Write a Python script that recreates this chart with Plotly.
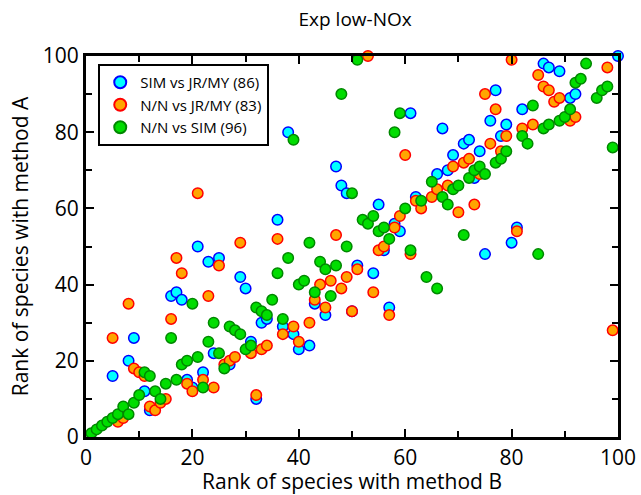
import plotly.graph_objects as go

# SIM vs JR/MY
sim_jr_x = [5, 8, 9, 11, 12, 16, 17, 18, 19, 20, 21, 22, 23, 24, 25, 27, 29, 30, 31, 32,
            33, 34, 36, 37, 38, 39, 40, 42, 43, 45, 47, 48, 49, 50, 51, 54, 55, 56, 57, 58,
            59, 61, 62, 66, 67, 68, 69, 71, 72, 73, 74, 75, 76, 77, 78, 79, 80, 81, 82, 86,
            87, 89, 91, 92, 100]
sim_jr_y = [16, 20, 26, 12, 7, 37, 38, 36, 15, 13, 50, 17, 46, 22, 47, 19, 42, 39, 25, 10,
            30, 31, 57, 29, 80, 27, 23, 24, 35, 32, 71, 66, 64, 33, 45, 43, 61, 49, 34, 56,
            54, 85, 63, 69, 81, 70, 74, 77, 78, 68, 75, 48, 83, 91, 79, 82, 51, 55, 86, 98,
            97, 96, 89, 90, 100]

# N/N vs JR/MY
nn_jr_x = [5, 6, 7, 8, 9, 10, 11, 12, 13, 14, 15, 16, 17, 18, 19, 20, 21, 22, 23, 24,
           25, 26, 27, 28, 29, 30, 31, 32, 33, 34, 36, 37, 39, 40, 42, 43, 44, 45, 46, 47,
           48, 49, 50, 51, 53, 54, 55, 56, 57, 58, 59, 60, 61, 62, 63, 65, 66, 68, 69, 70,
           71, 72, 73, 74, 75, 76, 77, 78, 79, 80, 81, 82, 84, 85, 86, 87, 88, 89, 91, 92,
           98, 99]
nn_jr_y = [26, 4, 5, 35, 18, 17, 16, 8, 7, 9, 10, 31, 47, 43, 14, 12, 64, 15, 37, 13,
           45, 19, 20, 21, 51, 78, 22, 11, 23, 24, 52, 27, 29, 25, 30, 36, 40, 34, 41, 53,
           39, 42, 33, 44, 100, 38, 49, 50, 32, 55, 58, 74, 48, 62, 60, 63, 65, 66, 71, 59,
           72, 73, 61, 69, 90, 77, 86, 75, 79, 99, 54, 81, 82, 95, 92, 91, 88, 89, 83, 84,
           97, 28]

# N/N vs SIM
nn_sim_x = [1, 2, 3, 4, 5, 6, 7, 8, 9, 10, 11, 12, 13, 14, 15, 16, 17, 18, 19, 20,
            21, 22, 23, 24, 25, 26, 27, 28, 29, 30, 31, 32, 33, 34, 35, 36, 37, 38, 39, 40,
            41, 42, 43, 44, 45, 46, 47, 48, 49, 50, 51, 52, 53, 54, 55, 56, 57, 58, 59, 60,
            61, 63, 64, 65, 66, 67, 68, 69, 70, 71, 72, 73, 74, 75, 77, 78, 79, 82, 83, 84,
            85, 86, 87, 89, 90, 91, 92, 93, 94, 96, 97, 98, 99]
nn_sim_y = [1, 2, 3, 4, 5, 6, 8, 6, 9, 11, 17, 16, 12, 10, 14, 26, 15, 19, 20, 35,
            21, 13, 25, 30, 22, 18, 29, 28, 27, 23, 24, 34, 33, 32, 36, 43, 31, 47, 78, 40,
            41, 51, 38, 46, 44, 37, 45, 90, 50, 64, 99, 57, 56, 58, 54, 55, 52, 80, 85, 60,
            49, 62, 42, 67, 39, 63, 61, 65, 66, 53, 68, 70, 71, 69, 72, 73, 75, 79, 77, 87,
            48, 81, 82, 83, 84, 86, 93, 94, 98, 89, 91, 92, 76]

series_names = ["SIM vs JR/MY (86)", "N/N vs JR/MY (83)", "N/N vs SIM (96)"]

FONT = "Open Sans"

fig = go.Figure()
styles = [("#00FFFF", "#0000FF"), ("#FFA500", "#FF0000"), ("#00DD00", "#008800")]
for (xs, ys), name, (fc, lc) in zip(
        [(sim_jr_x, sim_jr_y), (nn_jr_x, nn_jr_y), (nn_sim_x, nn_sim_y)],
        series_names, styles):
    fig.add_trace(go.Scatter(
        x=xs, y=ys, mode="markers", name=name, cliponaxis=False,
        marker=dict(size=10.5, color=fc, line=dict(color=lc, width=1.5)),
    ))

axis_common = dict(
    range=[0, 100], showline=True, linewidth=3, linecolor="black", mirror="ticks",
    ticks="inside", ticklen=8, tickwidth=2, tickcolor="black", dtick=20, tick0=0,
    minor=dict(dtick=10, ticks="inside", ticklen=6, tickwidth=2, tickcolor="black"),
    showgrid=False, zeroline=False, automargin=False,
    tickfont=dict(family=FONT, size=21, color="black"),
)

fig.update_layout(
    width=641, height=495,
    margin=dict(l=86, r=23, t=56, b=58),
    paper_bgcolor="white", plot_bgcolor="white",
    title=dict(text="Exp low-NOx", x=0.554, xanchor="center", y=0.96, yanchor="middle",
               font=dict(family=FONT, size=19, color="black")),
    xaxis=dict(axis_common, title=dict(text="Rank of species with method B",
                                       font=dict(family=FONT, size=21, color="black"))),
    yaxis=dict(axis_common, title=dict(text="Rank of species with method A", standoff=9,
                                       font=dict(family=FONT, size=21, color="black"))),
    showlegend=True,
    legend=dict(x=0.023, y=0.979, xanchor="left", yanchor="top",
                bgcolor="white", bordercolor="black", borderwidth=2,
                font=dict(family=FONT, size=15, color="black"),
                itemsizing="constant", tracegroupgap=0,
                itemwidth=30),
)

fig.write_html("out.html", config={"displayModeBar": False},
               post_script="document.body.style.margin='0';")
